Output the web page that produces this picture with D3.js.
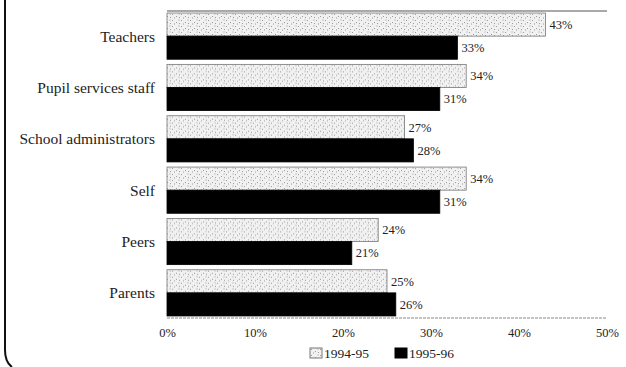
<!DOCTYPE html>
<html>
<head>
<meta charset="utf-8">
<script src="https://cdn.jsdelivr.net/npm/d3@7"></script>
<style>
  html, body { margin: 0; padding: 0; background: #fff; }
  svg { display: block; }
  text { font-family: "Liberation Serif", "DejaVu Serif", serif; fill: #222; }
</style>
</head>
<body>
<svg id="chart" width="626" height="367"></svg>
<script>
// Who students report as sources of help, two school years
const categories = ["Teachers", "Pupil services staff", "School administrators", "Self", "Peers", "Parents"];
const seriesNames = ["1994-95", "1995-96"];
const values9495 = [43, 34, 27, 34, 24, 25];
const values9596 = [33, 31, 28, 31, 21, 26];
const tickValues = [0, 10, 20, 30, 40, 50];

const rows = categories.map((c, i) => ({ category: c, values: [values9495[i], values9596[i]] }));

const svg = d3.select("#chart");
const plot = { left: 167, right: 607, top: 12, bottom: 317 };

// Stippled fill for the lighter series
const defs = svg.append("defs");
const pat = defs.append("pattern")
  .attr("id", "stipple").attr("patternUnits", "userSpaceOnUse")
  .attr("width", 9).attr("height", 6);
pat.append("rect").attr("width", 9).attr("height", 6).attr("fill", "#f1f1f1");
[[1, 1], [5, 3], [7.5, 0.5], [3, 4.5], [8, 4]].forEach(([x, y]) =>
  pat.append("rect").attr("x", x).attr("y", y).attr("width", 1).attr("height", 1).attr("fill", "#9a9a9a"));

const x = d3.scaleLinear().domain([0, 50]).range([plot.left, plot.right]);
const y = d3.scaleBand().domain(categories).range([plot.top, plot.bottom]).paddingInner(0.1).paddingOuter(0.02);
const ySub = d3.scaleBand().domain(seriesNames).range([0, y.bandwidth()]);
const fills = { "1994-95": "url(#stipple)", "1995-96": "#000" };

// Frame lines at top and bottom of the plotting area
svg.append("line").attr("x1", plot.left).attr("x2", plot.right)
  .attr("y1", plot.top - 1).attr("y2", plot.top - 1)
  .attr("stroke", "#555").attr("stroke-width", 1.2);
svg.append("line").attr("x1", plot.left).attr("x2", plot.right)
  .attr("y1", plot.bottom + 1).attr("y2", plot.bottom + 1)
  .attr("stroke", "#888").attr("stroke-width", 1).attr("stroke-dasharray", "3,1");

// Left edge of the surrounding box, rounded at the bottom
svg.append("path")
  .attr("d", "M5,0 L5,350 Q5,362 12,367")
  .attr("fill", "none").attr("stroke", "#111").attr("stroke-width", 2);

const groups = svg.append("g").selectAll("g").data(rows).join("g")
  .attr("transform", d => `translate(0,${y(d.category)})`);

groups.selectAll("rect").data(d => d.values.map((v, i) => ({ key: seriesNames[i], v })))
  .join("rect")
  .attr("x", x(0))
  .attr("y", d => ySub(d.key))
  .attr("width", d => x(d.v) - x(0))
  .attr("height", ySub.bandwidth())
  .attr("fill", d => fills[d.key])
  .attr("stroke", d => d.key === "1994-95" ? "#777" : "#000")
  .attr("stroke-width", 0.8);

groups.selectAll("text.val").data(d => d.values.map((v, i) => ({ key: seriesNames[i], v })))
  .join("text").attr("class", "val")
  .attr("x", d => x(d.v) + 4)
  .attr("y", d => ySub(d.key) + ySub.bandwidth() / 2)
  .attr("dy", "0.35em")
  .attr("font-size", 12.5)
  .attr("fill", "#333")
  .text(d => d.v + "%");

// Category labels
svg.append("g").selectAll("text").data(categories).join("text")
  .attr("x", plot.left - 12)
  .attr("y", d => y(d) + y.bandwidth() / 2)
  .attr("dy", "0.35em")
  .attr("text-anchor", "end")
  .attr("font-size", 15.5)
  .text(d => d);

// Percentage axis (labels only)
const axis = d3.axisBottom(x).tickValues(tickValues).tickFormat(d => d + "%").tickSize(0).tickPadding(0);
const axG = svg.append("g").attr("transform", `translate(0,${plot.bottom + 11})`).call(axis);
axG.select(".domain").remove();
axG.selectAll("text").attr("font-size", 12.5).attr("fill", "#333")
  .style("font-family", "'Liberation Serif', serif");

// Legend
const legend = svg.append("g").attr("transform", "translate(310,348)");
const legItems = [{ name: "1994-95", x: 0 }, { name: "1995-96", x: 85 }];
legItems.forEach(it => {
  legend.append("rect").attr("x", it.x).attr("y", 0).attr("width", 12).attr("height", 10)
    .attr("fill", fills[it.name]).attr("stroke", it.name === "1994-95" ? "#777" : "#000");
  legend.append("text").attr("x", it.x + 14).attr("y", 5).attr("dy", "0.35em")
    .attr("font-size", 13.5).text(it.name);
});
</script>
</body>
</html>
